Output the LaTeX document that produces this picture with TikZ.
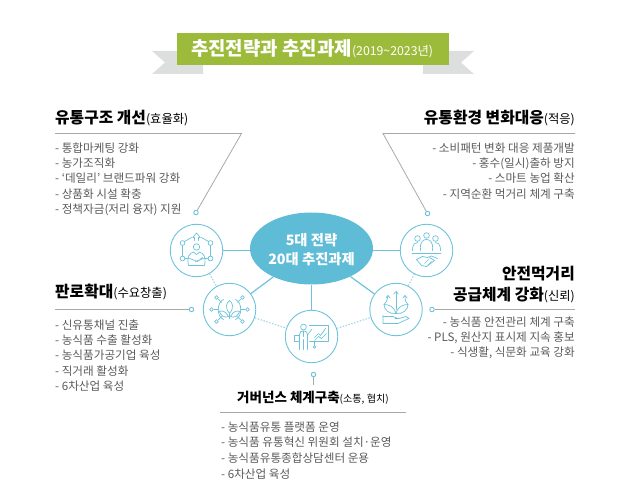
\documentclass[tikz,border=0pt]{standalone}
\usepackage{fontspec}
\usepackage{xcolor}
\setmainfont{Noto Sans CJK KR}
\usetikzlibrary{positioning, shapes.geometric}
\definecolor{ribbongreen}{HTML}{9DBB3A}
\definecolor{ribbongray}{HTML}{DDDFDE}
\definecolor{hubblue}{HTML}{5FBCD7}
\definecolor{linkblue}{HTML}{6CC3DB}
\definecolor{dotblue}{HTML}{A8D9E6}
\definecolor{rulegray}{HTML}{A8A8A8}
\definecolor{bodygray}{HTML}{5A5A5A}
\newcommand{\headsmall}[1]{{\fontsize{12.3}{14}\selectfont\mdseries #1}}
\tikzset{
    goal/.style={circle, draw=linkblue, line width=0.9pt, fill=white, minimum size=52.5pt, inner sep=0pt},
    spoke/.style={draw=linkblue, line width=1.2pt},
    dotlink/.style={draw=dotblue, line width=1.2pt, dash pattern=on 1.5pt off 1.5pt},
    leader/.style={draw=rulegray, line width=0.8pt},
    tipdot/.style={circle, draw=linkblue, line width=0.9pt, fill=white, minimum size=4.5pt, inner sep=0pt},
    headline/.style={font=\fontsize{15.8}{21}\selectfont\bfseries, text=black, inner sep=0pt, align=right},
    bodyleft/.style={font=\fontsize{11.6}{15.3}\selectfont, text=bodygray, inner sep=0pt, align=left, anchor=north west},
    bodyright/.style={font=\fontsize{11.6}{15.3}\selectfont, text=bodygray, inner sep=0pt, align=right, anchor=north east},
    icon/.style={draw=linkblue, line width=0.7pt, line cap=round, line join=round},
}
\begin{document}
\begin{tikzpicture}[x=1pt, y=-1pt]
    \useasboundingbox (0,0) rectangle (640,494);

    % title ribbon
    \fill[ribbongray] (152,51) -- (190,51) -- (203,51) -- (203,74) -- (152,74) -- (165,62.5) -- cycle;
    \fill[ribbongray] (474,51) -- (423,51) -- (423,74) -- (474,74) -- (461,62.5) -- cycle;
    \node[fill=ribbongreen, minimum width=272pt, minimum height=32pt, inner sep=0pt] (banner) at (313,49) {};
    \node[text=white, inner sep=0pt, anchor=base west, font=\fontsize{18.9}{22}\selectfont\bfseries] (title) at (191,56)
        {추진전략과 추진과제\headsmall{(2019\textasciitilde 2023년)}};

    % hub and goals
    \node[ellipse, fill=hubblue, minimum width=123pt, minimum height=72pt, inner sep=0pt] (hub) at (311.5,248.5) {};
    \node[goal] (goal1) at (196.5,250.5) {};
    \node[goal] (goal2) at (229.5,309.5) {};
    \node[goal] (goal3) at (311.5,336.5) {};
    \node[goal] (goal4) at (396,309.5) {};
    \node[goal] (goal5) at (426.5,250.5) {};
    \node[text=white, align=center, inner sep=0pt, font=\fontsize{14.3}{19.5}\selectfont\bfseries] (hubtext) at (311.5,249.5) {5대 전략\\20대 추진과제};

    \draw[spoke] (hub.west |- goal1) -- (goal1);
    \draw[spoke] (hub.east |- goal5) -- (goal5);
    \foreach \g in {2,3,4} {
        \draw[spoke] (hub) -- (goal\g);
    }
    \foreach \a/\b in {1/2,2/3,3/4,4/5} {
        \draw[dotlink] (goal\a) -- (goal\b);
    }

    % leaders
    \node[tipdot] (tip1) at (196,212.5) {};
    \coordinate (bend1) at (241.5,133.5);
    \coordinate (end1) at (55,133.5);
    \draw[leader] (tip1) -- (bend1) -- (end1);
    \node[tipdot] (tip5) at (427.5,213.5) {};
    \coordinate (bend5) at (383,133.5);
    \coordinate (end5) at (575,133.5);
    \draw[leader] (tip5) -- (bend5) -- (end5);
    \node[tipdot] (tip2) at (191.5,309.5) {};
    \coordinate (end2) at (55,309.5);
    \draw[leader] (tip2) -- (end2);
    \node[tipdot] (tip4) at (432,309.5) {};
    \coordinate (end4) at (575,309.5);
    \draw[leader] (tip4) -- (end4);
    \node[tipdot] (tip3) at (313.5,374.5) {};
    \coordinate (end3) at (313.5,385);
    \draw[leader] (tip3) -- (end3);
    \coordinate (rule3a) at (220,412.5);
    \coordinate (rule3b) at (406,412.5);
    \draw[leader] (rule3a) -- (rule3b);

    % texts
    \node[headline, anchor=base west] (head1) at (55,123.5) {유통구조 개선\headsmall{(효율화)}};
    \node[bodyleft] (body1) at (55,142.5) {- 통합마케팅 강화\\- 농가조직화\\- ‘데일리’ 브랜드파워 강화\\- 상품화 시설 확충\\- 정책자금(저리 융자) 지원};
    \node[headline, anchor=base east] (head5) at (575,123.5) {유통환경 변화대응\headsmall{(적응)}};
    \node[bodyright] (body5) at (575,142.5) {- 소비패턴 변화 대응 제품개발\\- 홍수(일시)출하 방지\\- 스마트 농업 확산\\- 지역순환 먹거리 체계 구축};
    \node[headline, anchor=base west] (head2) at (55,297.5) {판로확대\headsmall{(수요창출)}};
    \node[bodyleft] (body2) at (55,319.5) {- 신유통채널 진출\\- 농식품 수출 활성화\\- 농식품가공기업 육성\\- 직거래 활성화\\- 6차산업 육성};
    \node[headline, anchor=base east] (head4) at (575,300.5) {안전먹거리\\공급체계 강화\headsmall{(신뢰)}};
    \node[bodyright] (body4) at (575,316.5) {- 농식품 안전관리 체계 구축\\- PLS, 원산지 표시제 지속 홍보\\- 식생활, 식문화 교육 강화};
    \node[headline, anchor=base, font=\fontsize{13.5}{18}\selectfont\bfseries] (head3) at (313,402) {거버넌스 체계구축{\fontsize{10.1}{13}\selectfont\mdseries (소통, 협치)}};
    \node[bodyleft, font=\fontsize{11.6}{15.7}\selectfont] (body3) at (221,421.5) {- 농식품유통 플랫폼 운영\\- 농식품 유통혁신 위원회 설치·운영\\- 농식품유통종합상담센터 운용\\- 6차산업 육성};

    % icon goal1
    \begin{scope}[shift={(goal1)}, icon]
        \draw (0,-3.5) circle (3.2);
        \foreach \x/\y in {-14/-7.5,14/-7.5,-14/8,14/8} {
            \draw (\x,\y) circle (2.4);
        }
        \draw (-14,-5) -- (-14,5.5) (14,-5) -- (14,5.5);
        \draw (-12,-9) -- (-5,-13) (12,-9) -- (5,-13) (-11.5,8) -- (-8,8) (11.5,8) -- (8,8);
        \draw (-2,-10) -- (-2,-13) -- (-3.8,-13) -- (0,-17.5) -- (3.8,-13) -- (2,-13) -- (2,-10);
        \draw (-8,15) .. controls (-10,6) and (-7,3) .. (-3,1.5) -- (0,4) -- (3,1.5) .. controls (7,3) and (10,6) .. (8,15) -- cycle;
        \draw (-7,8) -- (1,11) -- (6,7) (7,8) -- (-1,11);
    \end{scope}

    % icon goal2
    \begin{scope}[shift={(goal2)}, icon]
        \foreach \x/\y/\u/\v in {-13/-12/-8/-7,13/-12/8/-7,-18/0/-11/0,18/0/11/0,-13/12/-8/7,13/12/8/7} {
            \draw (\x,\y) circle (1.9);
            \draw (\x*0.85,\y*0.85) -- (\u,\v);
        }
        \draw (-6,-10) .. controls (-13,-7) and (-13,7) .. (-6,10);
        \draw (6,-10) .. controls (13,-7) and (13,7) .. (6,10);
        \draw (0,4) .. controls (-5,-2) and (-3,-7) .. (0,-9) .. controls (3,-7) and (5,-2) .. (0,4);
        \draw (-1,7) .. controls (-4,1) and (-8,1) .. (-10,2) .. controls (-9,6) and (-5,9) .. (-1,7);
        \draw (1,7) .. controls (4,1) and (8,1) .. (10,2) .. controls (9,6) and (5,9) .. (1,7);
        \draw (0,4) -- (0,9);
    \end{scope}

    % icon goal3
    \begin{scope}[shift={(goal3)}, icon]
        \draw (-8,-9.5) circle (2.9);
        \draw (-12,13) -- (-12,-2) .. controls (-12,-5) and (-10,-5.5) .. (-8,-5.5) .. controls (-6,-5.5) and (-4,-5) .. (-4,-2) -- (-4,13);
        \draw (-8,13) -- (-8,3) (-8,-5.5) -- (-8,0);
        \draw (-3.5,-2) -- (0,-7);
        \draw (-17,-1) rectangle (-12,5);
        \draw (-2,-11.5) -- (17,-11.5) -- (17,5) -- (-2,5);
        \draw (3,1) -- (7,-3) -- (9,-1) -- (14,-8);
        \draw (3,4) -- (7,0) -- (10,2) -- (15,-3);
        \draw (3,5) -- (3,9);
        \draw (3,10.5) circle (1.4);
    \end{scope}

    % icon goal4
    \begin{scope}[shift={(goal4)}, icon]
        \foreach \x/\s in {-8/14,0/18,9/14} {
            \draw (\x-2.2,-\s+2.5) -- (\x,-\s) -- (\x+2.2,-\s+2.5);
        }
        \draw (0,-18) -- (0,0);
        \draw (-8,-14) .. controls (-9,-8) and (-10,-7) .. (-12,-5);
        \draw (9,-14) .. controls (9,-8) and (10,-7) .. (12,-5);
        \draw (0,4) .. controls (-2,-3) and (-7,-5) .. (-12,-5) .. controls (-12,0) and (-7,5) .. (0,4);
        \draw (0,4) .. controls (2,-3) and (7,-5) .. (12,-5) .. controls (12,0) and (7,5) .. (0,4);
        \draw (-13,6) -- (-13,14) -- (2,14) -- (13,9) -- (10,7) -- (3,9) -- (-1,9);
        \draw (-13,7) -- (-3,7) -- (2,9);
    \end{scope}

    % icon goal5
    \begin{scope}[shift={(goal5)}, icon]
        \foreach \x/\y in {-9/-12,0/-15,9/-12} {
            \draw (\x,\y) circle (2.8);
        }
        \draw (-14,0) .. controls (-14,-7) and (-11,-8) .. (-9,-8) (14,0) .. controls (14,-7) and (11,-8) .. (9,-8);
        \draw (-6,0) .. controls (-7,-9) and (-3,-11) .. (0,-11) .. controls (3,-11) and (7,-9) .. (6,0);
        \draw (-14.5,2.5) -- (14.5,2.5);
        \draw (-10,9) -- (-4,6) -- (1,7) -- (5,5.5) -- (11,8);
        \draw (-10,9) -- (-5,15) -- (0,16) -- (8,10) -- (3,7);
        \draw (-2,13) -- (2,9) (1,15) -- (5,11);
    \end{scope}
\end{tikzpicture}
\end{document}
